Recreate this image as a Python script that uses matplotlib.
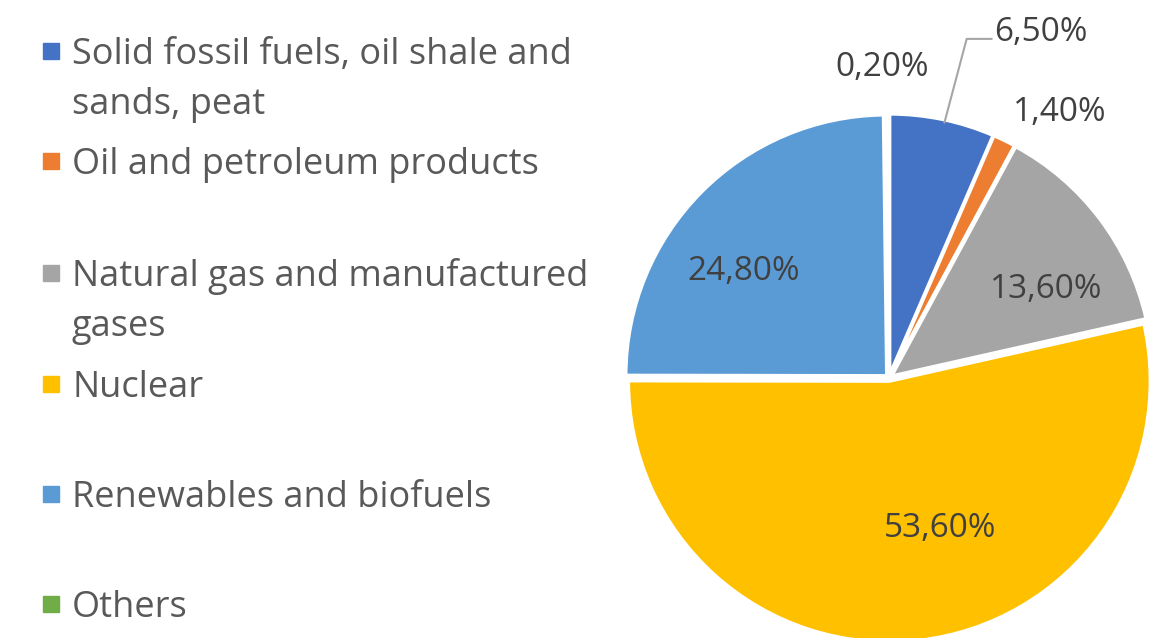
import numpy as np
import matplotlib.pyplot as plt
from matplotlib.patches import Rectangle

plt.rcParams['font.family'] = ['Open Sans', 'DejaVu Sans']

labels = ['Solid fossil fuels, oil shale and\nsands, peat',
          'Oil and petroleum products',
          'Natural gas and manufactured\ngases',
          'Nuclear',
          'Renewables and biofuels',
          'Others']
values = [6.5, 1.4, 13.6, 53.6, 24.8, 0.2]
colors = ['#4472C4', '#ED7D31', '#A5A5A5', '#FFC000', '#5B9BD5', '#70AD47']

# label placement (radius in pie units, angle in degrees)
label_pos = [(1.30, 68.0), (1.21, 57.3), (0.69, 29.4),
             (0.61, -71.4), (0.69, 143.6), (1.19, 91.2)]

W, H = 1149, 638
fig = plt.figure(figsize=(W / 100, H / 100), dpi=100)

# pie axes: centre (889, 378) px from top, radius 261 px
cx, cy, r = 889, H - 378, 261
lim = 1.3
ax = fig.add_axes([(cx - lim * r) / W, (cy - lim * r) / H,
                   2 * lim * r / W, 2 * lim * r / H])
wedges, _ = ax.pie(values, colors=colors, startangle=90, counterclock=False,
                   explode=[0.012] * len(values),
                   wedgeprops=dict(edgecolor='white', linewidth=2.5))
ax.set_xlim(-lim, lim)
ax.set_ylim(-lim, lim)
ax.set_aspect('equal')
ax.axis('off')

for i, (v, (rad, ang)) in enumerate(zip(values, label_pos)):
    txt = f'{v:.2f}'.replace('.', ',') + '%'
    x, y = rad * np.cos(np.radians(ang)), rad * np.sin(np.radians(ang))
    if i == 0:
        # leader line for the small blue slice
        mid = np.radians((wedges[0].theta1 + wedges[0].theta2) / 2)
        x0, y0 = 1.0 * np.cos(mid), 1.0 * np.sin(mid)
        ax.plot([x0 + 0.01, x0 + 0.095, x0 + 0.19], [y0, y0 + 0.32, y0 + 0.32],
                color='#A6A6A6', lw=1.5, clip_on=False)
        ax.text(x0 + 0.2, y0 + 0.345, txt, ha='left', va='center',
                fontsize=24, color='#404040')
    else:
        ax.text(x, y, txt, ha='center', va='center', fontsize=24,
                color='#404040')

# legend drawn by hand
slot_y = [51, 161, 273, 384, 494, 604]
for lab, col, yy in zip(labels, colors, slot_y):
    fig.patches.append(Rectangle((43 / W, 1 - (yy + 8) / H), 16 / W, 16 / H,
                                 transform=fig.transFigure, color=col))
    for k, line in enumerate(lab.split('\n')):
        fig.text(72 / W, 1 - (yy + 13 + 50 * k) / H, line, ha='left',
                 va='baseline', fontsize=26, color='#595959')

fig.savefig('out.png', dpi=100)
